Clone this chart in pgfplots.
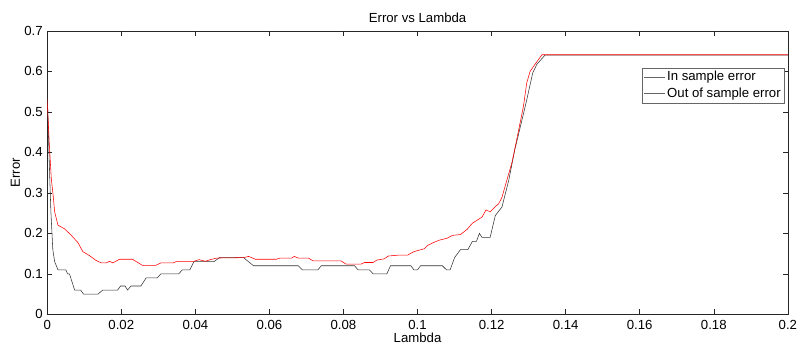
\documentclass[border=0pt]{standalone}
\usepackage{fontspec}
\setmainfont{Liberation Sans}
\usepackage{pgfplots}
\pgfplotsset{compat=1.18}
\begin{document}
\fontsize{13.3}{16}\selectfont
\begin{tikzpicture}
\begin{axis}[
  at={(0,0)}, anchor=south west,
  scale only axis, width=744.5bp, height=285bp,
  xmin=0, xmax=0.2, ymin=0, ymax=0.7,
  xtick={0,0.02,0.04,0.06,0.08,0.1,0.12,0.14,0.16,0.18,0.2},
  xticklabels={0,0.02,0.04,0.06,0.08,0.1,0.12,0.14,0.16,0.18,0.2},
  ytick={0,0.1,0.2,0.3,0.4,0.5,0.6,0.7},
  yticklabels={0,0.1,0.2,0.3,0.4,0.5,0.6,0.7},
  xticklabel style={inner sep=1bp, yshift=-4.7bp},
  tick align=inside, tick pos=both, major tick length=5bp,
  axis line style={line width=0.5bp, black!85},
  every tick/.style={line width=0.5bp, black!85},
  /pgf/number format/assume math mode=true,
  title={Error vs Lambda},
  title style={at={(axis description cs:0.5,1)}, anchor=center, yshift=7bp, inner sep=0pt},
  xlabel={Lambda},
  xlabel style={at={(axis description cs:0.5,-0.0825)}, anchor=center, inner sep=0pt},
  ylabel={Error},
  every axis y label/.style={at={(axis description cs:-0.043,0.5)}, anchor=center, rotate=90, inner sep=0pt},
  legend style={at={(rel axis cs:0.996,0.870)}, anchor=north east, draw=none, fill=white,
    postaction={draw=black!60, line width=0.5bp},
    inner xsep=2bp, inner ysep=1.5bp, row sep=1bp, nodes={inner xsep=2bp, inner ysep=2bp}},
  legend cell align=left,
  legend image code/.code={\draw[mark repeat=2,mark phase=2,#1] plot coordinates {(0bp,0bp) (10.5bp,0bp) (21bp,0bp)};},
]
\addplot[color=black!80, line width=0.55bp, legend image post style={draw=black!80}] coordinates {
(0,0.55) (0.0003,0.45) (0.0007,0.33) (0.001,0.25) (0.0015,0.16) (0.002,0.13)
(0.0029,0.11) (0.005,0.11) (0.0055,0.10) (0.006,0.10) (0.0074,0.06) (0.009,0.06)
(0.0098,0.05) (0.0137,0.05) (0.015,0.06) (0.019,0.06) (0.0198,0.07) (0.021,0.07)
(0.0217,0.06) (0.0226,0.07) (0.0253,0.07) (0.0267,0.09) (0.0297,0.09) (0.0307,0.10)
(0.0355,0.10) (0.0365,0.11) (0.0385,0.11) (0.0396,0.13) (0.045,0.13) (0.0465,0.14)
(0.053,0.14) (0.0557,0.12) (0.0678,0.12) (0.0689,0.11) (0.0731,0.11) (0.074,0.12)
(0.083,0.12) (0.0839,0.11) (0.087,0.11) (0.088,0.10) (0.0917,0.10) (0.0927,0.12)
(0.0982,0.12) (0.099,0.11) (0.1,0.11) (0.1008,0.12) (0.1067,0.12) (0.1078,0.11)
(0.1088,0.11) (0.1100,0.14) (0.1116,0.16) (0.1136,0.16) (0.1148,0.18) (0.1159,0.18)
(0.1167,0.20) (0.1174,0.19) (0.1196,0.19) (0.121,0.244) (0.1228,0.265) (0.1246,0.33)
(0.1263,0.408) (0.1282,0.48) (0.1295,0.53) (0.1311,0.596) (0.1322,0.617) (0.1344,0.64)
(0.2,0.64)
};
\addlegendentry{In sample error}
\addplot[color=red, line width=0.55bp, legend image post style={draw=red}] coordinates {
(0,0.53) (0.0005,0.43) (0.0011,0.334) (0.0016,0.293) (0.002,0.253) (0.0029,0.22)
(0.0047,0.211) (0.0065,0.195) (0.0083,0.177) (0.0096,0.155) (0.0114,0.145) (0.0132,0.133)
(0.0146,0.127) (0.0159,0.127) (0.0168,0.131) (0.0177,0.127) (0.0195,0.136) (0.023,0.136)
(0.0257,0.121) (0.0293,0.121) (0.0307,0.127) (0.034,0.127) (0.035,0.131) (0.0396,0.131)
(0.041,0.135) (0.0427,0.131) (0.044,0.135) (0.0458,0.139) (0.053,0.140) (0.0544,0.143)
(0.0562,0.136) (0.0619,0.136) (0.0629,0.139) (0.066,0.139) (0.0667,0.143) (0.0678,0.139)
(0.0705,0.139) (0.0718,0.132) (0.0793,0.132) (0.0807,0.124) (0.0847,0.124) (0.0857,0.128)
(0.088,0.128) (0.089,0.134) (0.091,0.137) (0.0921,0.144) (0.0946,0.146) (0.0973,0.146)
(0.098,0.150) (0.0991,0.155) (0.1018,0.162) (0.1027,0.17) (0.104,0.176) (0.1058,0.183)
(0.108,0.188) (0.1094,0.195) (0.1116,0.197) (0.1134,0.210) (0.1148,0.225) (0.1174,0.240)
(0.1185,0.258) (0.1196,0.253) (0.121,0.266) (0.1219,0.273) (0.1228,0.289) (0.1237,0.318)
(0.1255,0.375) (0.1268,0.432) (0.1286,0.514) (0.1295,0.572) (0.1304,0.600) (0.1317,0.617)
(0.1336,0.641) (0.2,0.641)
};
\addlegendentry{Out of sample error}
\end{axis}
\path[use as bounding box] (-47.5bp,-30bp) rectangle (750.5bp,316bp);
\end{tikzpicture}
\end{document}
